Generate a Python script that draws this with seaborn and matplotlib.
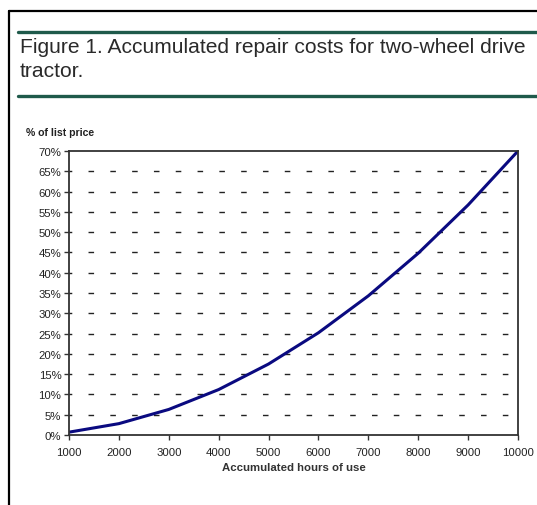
import numpy as np
import pandas as pd
import seaborn as sns
import matplotlib.pyplot as plt
from matplotlib.lines import Line2D
from matplotlib.ticker import FuncFormatter

# accumulated hours of use vs. repair cost (% of list price)
hours = [1000, 2000, 3000, 4000, 5000, 6000, 7000, 8000, 9000, 10000]
repair_pct = [0.7, 2.8, 6.3, 11.2, 17.5, 25.2, 34.3, 44.8, 56.7, 70.0]
y_ticks = list(range(0, 71, 5))

df = pd.DataFrame({"hours": hours, "pct": repair_pct})

sns.set_style("ticks")
plt.rcParams['font.family'] = ['Liberation Sans', 'DejaVu Sans']

fig = plt.figure(figsize=(5.37, 5.06), dpi=100)
W, H = 537, 506

# outer frame (left and top edges only, rest is cropped)
fig.add_artist(Line2D([9 / W, 9 / W], [0, 1 - 12 / H], color="black", lw=1.6))
fig.add_artist(Line2D([9 / W, 1], [1 - 12 / H, 1 - 12 / H], color="black", lw=1.6))

# green rules around the caption
green = "#1f5a4b"
for yy in (33, 97):
    fig.add_artist(Line2D([18 / W, 1], [1 - yy / H, 1 - yy / H], color=green, lw=2.4))

fig.text(20 / W, 1 - 53 / H, "Figure 1. Accumulated repair costs for two-wheel drive",
         fontsize=15.1, color="#2a2a2a", ha="left", va="baseline")
fig.text(20 / W, 1 - 77 / H, "tractor.",
         fontsize=15.1, color="#2a2a2a", ha="left", va="baseline")
fig.text(26 / W, 1 - 136 / H, "% of list price", fontsize=7.6,
         fontweight="bold", color="#222222", ha="left", va="baseline")

ax = fig.add_axes([69 / W, 1 - 436 / H, (518 - 69) / W, (436 - 152) / H])
sns.lineplot(data=df, x="hours", y="pct", ax=ax, color="#0a0a80", lw=2.2)

ax.set_xlim(1000, 10000)
ax.set_ylim(0, 70)
ax.set_xticks(hours)
ax.set_yticks(y_ticks)
ax.yaxis.set_major_formatter(FuncFormatter(lambda v, p: f"{int(v)}%"))
ax.yaxis.grid(True, linestyle=(2, (4, 11.7)), color="#222222", lw=1.0)
ax.xaxis.grid(False)
gl = ax.get_ygridlines()
gl[0].set_visible(False)
gl[-1].set_visible(False)

for side in ("left", "right", "top", "bottom"):
    ax.spines[side].set_visible(True)
    ax.spines[side].set_color("#333333")
    ax.spines[side].set_linewidth(1.3)

ax.tick_params(axis="both", direction="out", length=3.5, width=1.0,
               color="#333333", labelsize=8.2, labelcolor="#222222")
ax.tick_params(axis="x", pad=5)
ax.tick_params(axis="y", pad=2)

ax.set_xlabel("Accumulated hours of use", fontsize=8.2, fontweight="bold",
              color="#333333", labelpad=4)
ax.set_ylabel("")

fig.savefig("out.png", dpi=100)
